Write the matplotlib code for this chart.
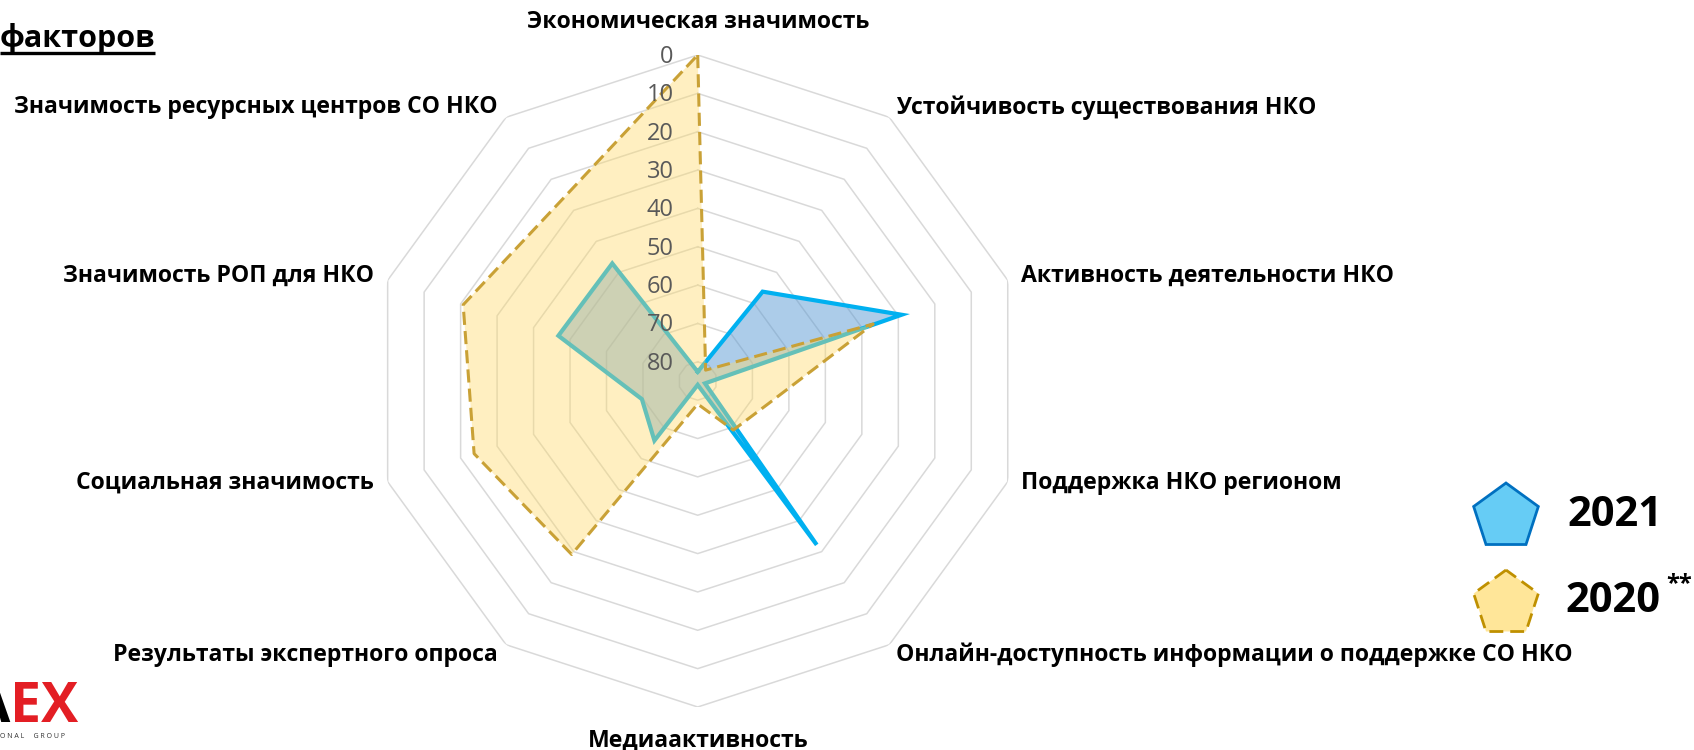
import numpy as np
import matplotlib
matplotlib.use("Agg")
import matplotlib.pyplot as plt
from matplotlib.patches import RegularPolygon

categories = [
    "Экономическая значимость",
    "Устойчивость существования НКО",
    "Активность деятельности НКО",
    "Поддержка НКО регионом",
    "Онлайн-доступность информации о поддержке СО НКО",
    "Медиаактивность",
    "Результаты экспертного опроса",
    "Социальная значимость",
    "Значимость РОП для НКО",
    "Значимость ресурсных центров СО НКО",
]
values_2021 = [82.6, 56.2, 29.1, 83.0, 32.2, 84.0, 65.8, 69.7, 46.8, 47.1]
values_2020 = [0.0, 81.5, 36.9, 65.7, 69.2, 79.0, 29.1, 23.7, 20.7, 25.8]
ring_values = [0, 10, 20, 30, 40, 50, 60, 70, 80]
axis_max = 85
series_labels = ["2021", "2020"]

plt.rcParams["font.family"] = ["Open Sans", "DejaVu Sans"]

W, H = 1694, 750
PT = 0.72  # пиксели -> пункты при dpi=100
fig = plt.figure(figsize=(W / 100, H / 100), dpi=100)

# полярные оси: центр и радиус внешнего кольца в пикселях
cx, cy, R = 697.7, 381, 326
ax = fig.add_axes([(cx - R) / W, (H - cy - R) / H, 2 * R / W, 2 * R / H], projection="polar")
ax.set_theta_zero_location("N")
ax.set_theta_direction(-1)
ax.set_ylim(0, axis_max)
ax.grid(False)
ax.set_xticks([])
ax.set_yticks([])
ax.spines["polar"].set_visible(False)
ax.patch.set_alpha(0)

n = len(categories)
theta = np.linspace(0, 2 * np.pi, n, endpoint=False)
th_closed = np.append(theta, theta[0])


def to_r(v):
    # перевёрнутая ось: большие значения ближе к центру
    return axis_max - np.asarray(v, dtype=float)


def closed(v):
    v = list(v)
    return to_r(v + v[:1])


# сетка в виде десятиугольников
for v in ring_values:
    ax.plot(th_closed, np.full(n + 1, to_r(v)), color="#D9D9D9", lw=1.1, zorder=1)

# 2021
ax.fill(th_closed, closed(values_2021), color="#5B9BD5", alpha=0.5, lw=0, zorder=3)
ax.plot(th_closed, closed(values_2021), color="#00B0F0", lw=3, solid_joinstyle="miter", zorder=4)

# 2020 поверх
ax.fill(th_closed, closed(values_2020), color="#FFD966", alpha=0.4, lw=0, zorder=5)
ax.plot(th_closed, closed(values_2020), color="#C9A136", lw=2.2, dashes=(4.3, 2.0), zorder=6)

# подписи шкалы вдоль верхней оси
for v in ring_values:
    ax.annotate(str(v), xy=(0, to_r(v)), xytext=(-24 * PT, -2 * PT), textcoords="offset points",
                ha="right", va="center", fontsize=17, color="#595959", zorder=7)

# подписи категорий у внешнего кольца
label_offsets = [(0, 33), (7, 10), (13, 4), (13, -1), (7, -10),
                 (0, -34), (-8, -10), (-14, -1), (-14, 4), (-8, 10)]
for i, name in enumerate(categories):
    dx, dy = label_offsets[i]
    ha = "center" if dx == 0 else ("left" if dx > 0 else "right")
    ax.annotate(name, xy=(theta[i], to_r(0)), xytext=(dx * PT, dy * PT), textcoords="offset points",
                ha=ha, va="center", fontsize=16.6, fontweight="bold", color="black",
                annotation_clip=False, zorder=8)

# накладные оси в пикселях для легенды, заголовка и логотипа
lax = fig.add_axes([0, 0, 1, 1])
lax.set_xlim(0, W)
lax.set_ylim(0, H)
lax.axis("off")


def py(y):
    return H - y


lax.add_patch(RegularPolygon((1506, py(517)), numVertices=5, radius=34,
                             facecolor="#66CCF5", edgecolor="#0070C0", lw=2))
lax.add_patch(RegularPolygon((1506, py(604)), numVertices=5, radius=34,
                             facecolor="#FFE699", edgecolor="#BF9000", lw=2, linestyle=(0, (5, 2.5))))
lax.text(1567, py(516), series_labels[0], ha="left", va="center", fontsize=30, fontweight="bold")
lax.text(1565, py(601), series_labels[1], ha="left", va="center", fontsize=30, fontweight="bold")
lax.text(1666, py(584), "**", ha="left", va="center", fontsize=17, fontweight="bold")

# обрезанный заголовок слева сверху
title = lax.text(155, py(46.7), "факторов", ha="right", va="baseline", fontsize=22, fontweight="bold")
fig.canvas.draw()
bb = title.get_window_extent()
lax.plot([0, bb.x1], [py(53), py(53)], color="black", lw=2.4, solid_capstyle="butt")

# логотип (частично обрезан)
lax.text(10, py(722), "A", ha="right", va="baseline", fontsize=40, fontweight="bold", color="black")
lax.text(10, py(722), "EX", ha="left", va="baseline", fontsize=40, fontweight="bold", color="#E31E24")
lax.text(0, py(736), "O N A L     G R O U P", ha="left", va="center", fontsize=5, color="#333333")

fig.savefig("out.png", dpi=100)
